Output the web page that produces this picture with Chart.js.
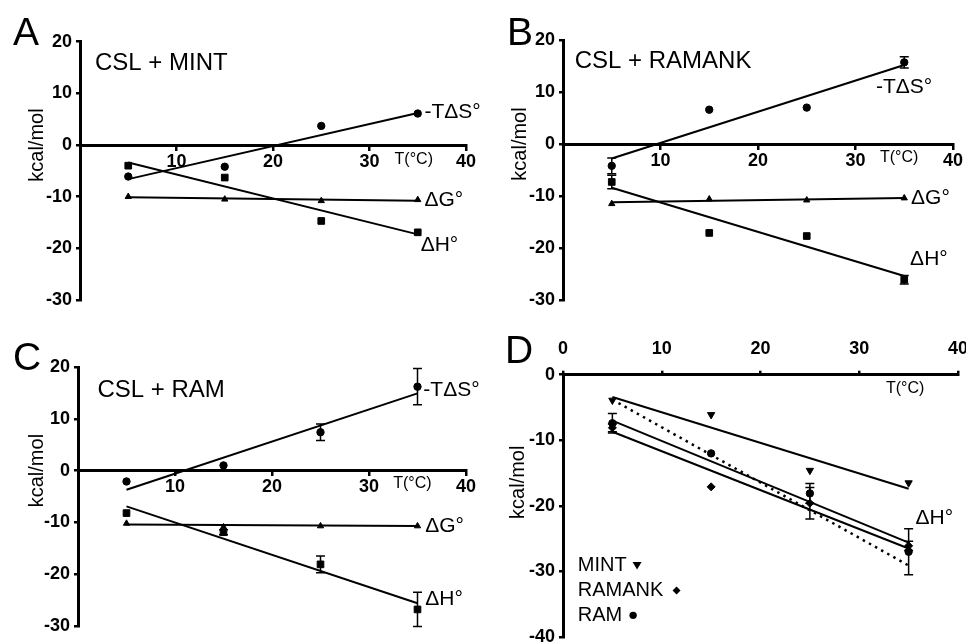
<!DOCTYPE html>
<html>
<head>
<meta charset="utf-8">
<script src="https://cdn.jsdelivr.net/npm/chart.js@4.4.0/dist/chart.umd.min.js"></script>
<style>
body { margin: 0; background: #fff; }
#fig { position: relative; width: 966px; height: 644px; overflow: hidden; font-family: 'Liberation Sans', Arial, sans-serif; }
canvas { position: absolute; }
.letter { position: absolute; font-size: 39px; line-height: 1; color: #000; }
</style>
</head>
<body>
<div id="fig">
  <canvas id="chartA" width="483" height="322" style="left:0;top:0"></canvas>
  <canvas id="chartB" width="483" height="322" style="left:483px;top:0"></canvas>
  <canvas id="chartC" width="483" height="322" style="left:0;top:322px"></canvas>
  <canvas id="chartD" width="483" height="322" style="left:483px;top:322px"></canvas>
  <div class="letter" style="left:13px;top:12px">A</div>
  <div class="letter" style="left:507px;top:12px">B</div>
  <div class="letter" style="left:13px;top:337px">C</div>
  <div class="letter" style="left:505px;top:330px">D</div>
</div>
<script>
const FONT = "'Liberation Sans', Arial, sans-serif";

// temperatures (°C) and tick labels
const temps = [5, 15, 25, 35];
const fitTemps = [5, 35];
const xTickValues = [0, 10, 20, 30, 40];
const yTicksABC = [-30, -20, -10, 0, 10, 20];
const yTicksD = [-40, -30, -20, -10, 0];

// A: CSL + MINT
const mintTdS = [-6.1, -4.2, 3.7, 6.1];
const mintTdSFit = [-6.6, 6.2];
const mintDH = [-4.0, -6.3, -14.7, -16.9];
const mintDHFit = [-3.4, -17.3];
const mintDG = [-10.0, -10.5, -10.8, -10.6];
const mintDGFit = [-10.1, -10.8];

// B: CSL + RAMANK
const ramankTdS = [-4.2, 6.6, 7.0, 15.7];
const ramankTdSErr = [1.5, 0, 0, 1.1];
const ramankTdSFit = [-2.8, 15.2];
const ramankDH = [-7.3, -17.1, -17.7, -26.1];
const ramankDHErr = [1.3, 0, 0, 0.8];
const ramankDHFit = [-8.4, -25.4];
const ramankDG = [-11.5, -10.6, -10.8, -10.4];
const ramankDGFit = [-11.2, -10.4];

// C: CSL + RAM
const ramTdS = [-2.1, 1.0, 7.4, 16.2];
const ramTdSErr = [0, 0, 1.6, 3.5];
const ramTdSFit = [-3.7, 14.9];
const ramDH = [-8.2, -11.9, -18.1, -26.8];
const ramDHErr = [0, 0.5, 1.6, 3.3];
const ramDHFit = [-6.9, -25.6];
const ramDG = [-10.2, -10.9, -10.7, -10.7];
const ramDGFit = [-10.4, -10.7];

// D: ΔH° of all three
const dMint = [-3.9, -6.1, -14.6, -16.5];
const dMintFit = [-3.4, -17.4];
const dRamank = [-8.1, -17.1, -19.6, -26.1];
const dRamankErr = [0.6, 0, 2.4, 0.7];
const dRamankFit = [-8.7, -26.5];
const dRam = [-7.4, -12.0, -18.1, -27.0];
const dRamErr = [1.5, 0, 1.5, 3.5];
const dRamFit = [-7.0, -25.6];
const dAllFit = [-3.8, -29.1];

function pts(ys, xs) {
    return xs.map((x, i) => ({x: x, y: ys[i]}));
}
function marks(ys, style, radius, errs, rot) {
    return {
        data: pts(ys, temps), showLine: false,
        pointStyle: style, pointRadius: radius, pointRotation: rot || 0,
        pointBackgroundColor: '#000', pointBorderColor: '#000', pointBorderWidth: 1,
        errors: errs
    };
}
function fit(ys, dash) {
    return {
        data: pts(ys, fitTemps), showLine: true, pointRadius: 0,
        borderColor: '#000', borderWidth: dash ? 2.5 : 2, borderDash: dash || []
    };
}

function drawMarker(ctx, style, x, y) {
    ctx.beginPath();
    if (style === 'down') {
        ctx.moveTo(x - 4.5, y - 3.5); ctx.lineTo(x + 4.5, y - 3.5); ctx.lineTo(x, y + 4);
    } else if (style === 'diamond') {
        ctx.moveTo(x, y - 4); ctx.lineTo(x + 4, y); ctx.lineTo(x, y + 4); ctx.lineTo(x - 4, y);
    } else {
        ctx.arc(x, y, 3.7, 0, Math.PI * 2);
    }
    ctx.closePath();
    ctx.fill();
}

function notesPlugin(notes) {
    return {
        id: 'notes',
        afterDatasetsDraw(chart) {
            const ctx = chart.ctx, xs = chart.scales.x, ys = chart.scales.y;
            ctx.save();
            ctx.fillStyle = '#000';
            ctx.strokeStyle = '#000';
            // error bars
            ctx.lineWidth = 1.5;
            chart.data.datasets.forEach(ds => {
                if (!ds.errors) return;
                ds.data.forEach((p, i) => {
                    const e = ds.errors[i];
                    if (!e) return;
                    const px = xs.getPixelForValue(p.x);
                    const t = ys.getPixelForValue(p.y + e), b = ys.getPixelForValue(p.y - e);
                    ctx.beginPath();
                    ctx.moveTo(px, t); ctx.lineTo(px, b);
                    ctx.moveTo(px - 4.5, t); ctx.lineTo(px + 4.5, t);
                    ctx.moveTo(px - 4.5, b); ctx.lineTo(px + 4.5, b);
                    ctx.stroke();
                });
            });
            // text labels
            ctx.textAlign = 'left';
            ctx.textBaseline = 'middle';
            notes.labels.forEach(l => {
                ctx.font = l[3] + 'px ' + FONT;
                ctx.fillText(l[0], xs.getPixelForValue(l[1]), ys.getPixelForValue(l[2]));
            });
            // legend
            (notes.legend || []).forEach(l => {
                ctx.font = '20px ' + FONT;
                ctx.fillText(l[0], xs.getPixelForValue(1.5), ys.getPixelForValue(l[2]));
                drawMarker(ctx, l[1], xs.getPixelForValue(l[3]), ys.getPixelForValue(l[2]));
            });
            // y axis title
            ctx.translate(notes.titleX, ys.getPixelForValue(notes.titleY));
            ctx.rotate(-Math.PI / 2);
            ctx.textAlign = 'center';
            ctx.font = '20px ' + FONT;
            ctx.fillText('kcal/mol', 0, 0);
            ctx.restore();
        }
    };
}

function makeChart(id, g, datasets, notes) {
    const xh = 40;
    return new Chart(document.getElementById(id), {
        type: 'scatter',
        data: {datasets: datasets},
        options: {
            responsive: false,
            animation: false,
            events: [],
            layout: {
                padding: {left: 0, top: g.top - (g.xTop ? xh : 0), right: 483 - g.right, bottom: 322 - g.bottom}
            },
            scales: {
                x: {
                    type: 'linear', min: 0, max: 40,
                    position: g.xTop ? 'top' : {y: 0},
                    afterBuildTicks: s => { s.ticks = xTickValues.map(v => ({value: v})); },
                    ticks: {
                        color: '#000', padding: g.xTop ? 11 : 2, autoSkip: false, maxRotation: 0,
                        font: {family: FONT, size: 18, weight: 'bold'},
                        callback: v => (v === 0 && !g.xTop) ? '' : v
                    },
                    grid: {drawOnChartArea: false, color: '#000', lineWidth: 2.5, tickLength: 4},
                    border: {color: '#000', width: 3},
                    afterFit: s => {
                        if (g.xTop) s.height = xh;
                        s.paddingLeft = 0; s.paddingRight = 0;
                    }
                },
                y: {
                    type: 'linear', min: g.yMin, max: g.yMax,
                    afterBuildTicks: s => { s.ticks = g.yTicks.map(v => ({value: v})); },
                    ticks: {color: '#000', padding: 4, font: {family: FONT, size: 18, weight: 'bold'}},
                    grid: {drawOnChartArea: false, color: '#000', lineWidth: 2.5, tickLength: 4},
                    border: {color: '#000', width: 3},
                    afterFit: s => {
                        s.width = g.left;
                        s.paddingTop = 0; s.paddingBottom = 0;
                    }
                }
            },
            plugins: {legend: {display: false}, tooltip: {enabled: false}}
        },
        plugins: [notesPlugin(notes)]
    });
}

makeChart('chartA', {left: 80, right: 466, top: 41.7, bottom: 300, yMin: -30, yMax: 20, yTicks: yTicksABC}, [
    fit(mintTdSFit), fit(mintDHFit), fit(mintDGFit),
    marks(mintTdS, 'circle', 3.7), marks(mintDH, 'rect', 4.7), marks(mintDG, 'triangle', 3.6)
], {
    titleX: 37, titleY: 0,
    labels: [
        ['CSL + MINT', 1.55, 15.9, 24], ['-TΔS°', 35.7, 6.4, 21], ['ΔG°', 35.7, -10.6, 21],
        ['ΔH°', 35.3, -19.3, 21], ['T(°C)', 32.6, -2.9, 16]
    ]
});

makeChart('chartB', {left: 80, right: 470, top: 40, bottom: 300, yMin: -30, yMax: 20, yTicks: yTicksABC}, [
    fit(ramankTdSFit), fit(ramankDHFit), fit(ramankDGFit),
    marks(ramankTdS, 'circle', 3.7, ramankTdSErr), marks(ramankDH, 'rect', 4.7, ramankDHErr), marks(ramankDG, 'triangle', 3.6)
], {
    titleX: 37, titleY: 0,
    labels: [
        ['CSL + RAMANK', 1.2, 15.8, 24], ['-TΔS°', 32.1, 11.0, 21], ['ΔG°', 35.7, -10.4, 21],
        ['ΔH°', 35.6, -22.1, 21], ['T(°C)', 32.5, -2.7, 16]
    ]
});

makeChart('chartC', {left: 78, right: 466, top: 45, bottom: 304, yMin: -30, yMax: 20, yTicks: yTicksABC}, [
    fit(ramTdSFit), fit(ramDHFit), fit(ramDGFit),
    marks(ramTdS, 'circle', 3.7, ramTdSErr), marks(ramDH, 'rect', 4.7, ramDHErr), marks(ramDG, 'triangle', 3.6)
], {
    titleX: 37, titleY: 0,
    labels: [
        ['CSL + RAM', 2.0, 15.5, 24], ['-TΔS°', 35.6, 15.5, 21], ['ΔG°', 35.8, -10.7, 21],
        ['ΔH°', 35.8, -24.8, 21], ['T(°C)', 32.5, -2.6, 16]
    ]
});

makeChart('chartD', {left: 80, right: 475, top: 52.7, bottom: 315, yMin: -40, yMax: 0, yTicks: yTicksD, xTop: true}, [
    fit(dMintFit), fit(dRamFit), fit(dRamankFit), fit(dAllFit, [2.5, 4.5]),
    marks(dMint, 'triangle', 4.2, null, 180), marks(dRamank, 'rectRot', 4, dRamankErr), marks(dRam, 'circle', 3.7, dRamErr)
], {
    titleX: 35, titleY: -16.4,
    labels: [['ΔH°', 35.7, -21.9, 21], ['T(°C)', 32.7, -2.1, 16]],
    legend: [['MINT', 'down', -29.1, 7.5], ['RAMANK', 'diamond', -32.9, 11.5], ['RAM', 'circle', -36.7, 7.1]]
});
</script>
</body>
</html>
